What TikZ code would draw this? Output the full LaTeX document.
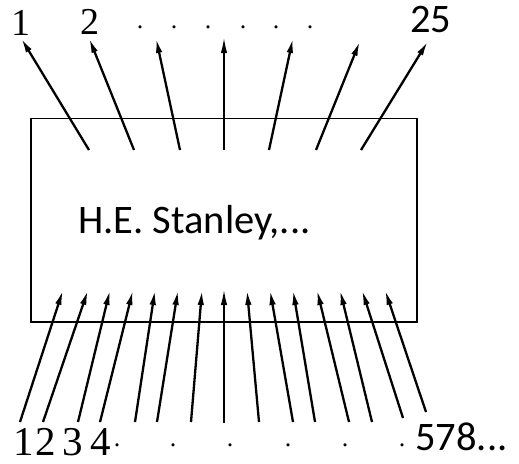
\documentclass[tikz,border=0pt]{standalone}
\usepackage{fontspec}
\setmainfont{Carlito}
\newfontfamily\serifdig{Liberation Serif}
\usetikzlibrary{arrows.meta}
\tikzset{
  arr/.style={line width=2.3pt,-{Latex[length=15pt,width=6.5pt]}},
  arrthin/.style={line width=1.4pt,-{Latex[length=15pt,width=6.5pt]}},
  boxst/.style={draw,line width=1.2pt,inner sep=0pt},
  sans/.style={font=\fontsize{40.5}{40.5}\selectfont,inner sep=0pt},
  serif/.style={font=\serifdig\fontsize{38}{38}\selectfont,inner sep=0pt},
  serifb/.style={font=\serifdig\fontsize{41}{41}\selectfont,inner sep=0pt},
  dotst/.style={font=\serifdig\fontsize{26}{26}\selectfont,inner sep=0pt}
}
\begin{document}
\begin{tikzpicture}[x=1pt,y=-1pt]
\useasboundingbox (0,0) rectangle (519,463);
% box
\node[boxst,minimum width=386pt,minimum height=203.5pt] (box) at (224,220.25) {};
\node[sans,anchor=base west] (txt) at (78,233) {H.E. Stanley,...};
% top labels
\node[serif,anchor=base] (t1) at (21,35) {1};
\node[serif,anchor=base] (t2) at (90,34) {2};
\foreach \i/\x in {1/140,2/174,3/208,4/243,5/276,6/310}
  \node[dotst,anchor=base] (td\i) at (\x,28) {.};
\node[sans,anchor=base west] (t25) at (410,32) {25};
% top arrows
\foreach \i/\a/\b/\c/\d in {1/89/150/21/38, 2/134/150/89/38, 3/180/150/156/38, 5/269/150/293/38, 6/316/150/360/41, 7/361/150/428/41}{
  \coordinate (ts\i) at (\a,\b);
  \coordinate (te\i) at (\c,\d);
  \draw[arr] (ts\i) -- (te\i);
}
\coordinate (ts4) at (224,150);
\coordinate (te4) at (224,38);
\draw[arrthin] (ts4) -- (te4);
% bottom arrows
\foreach \i/\a/\b/\c in {1/20/422/63, 2/43/422/88, 3/78/422/110, 4/100/422/133, 5/135/422/155, 6/157/422/178, 7/191/422/202, 9/259/422/247, 10/293/422/270, 11/315/422/293, 12/349/422/317, 13/372/422/340, 14/403/418/362, 15/426/412/385}{
  \coordinate (bs\i) at (\a,\b);
  \coordinate (be\i) at (\c,290);
  \draw[arr] (bs\i) -- (be\i);
}
\coordinate (bs8) at (224,423);
\coordinate (be8) at (224,290);
\draw[arrthin] (bs8) -- (be8);
% bottom labels
\node[serifb,anchor=base] (b1) at (24,455) {1};
\node[serifb,anchor=base] (b2) at (46,455) {2};
\node[serifb,anchor=base] (b3) at (73,455) {3};
\node[serifb,anchor=base] (b4) at (101,455) {4};
\foreach \i/\x in {1/117,2/173,3/230,4/288,5/345,6/402}
  \node[dotst,anchor=base] (bd\i) at (\x,446) {.};
\node[sans,anchor=base west] (b578) at (415,450) {578...};
\end{tikzpicture}
\end{document}
